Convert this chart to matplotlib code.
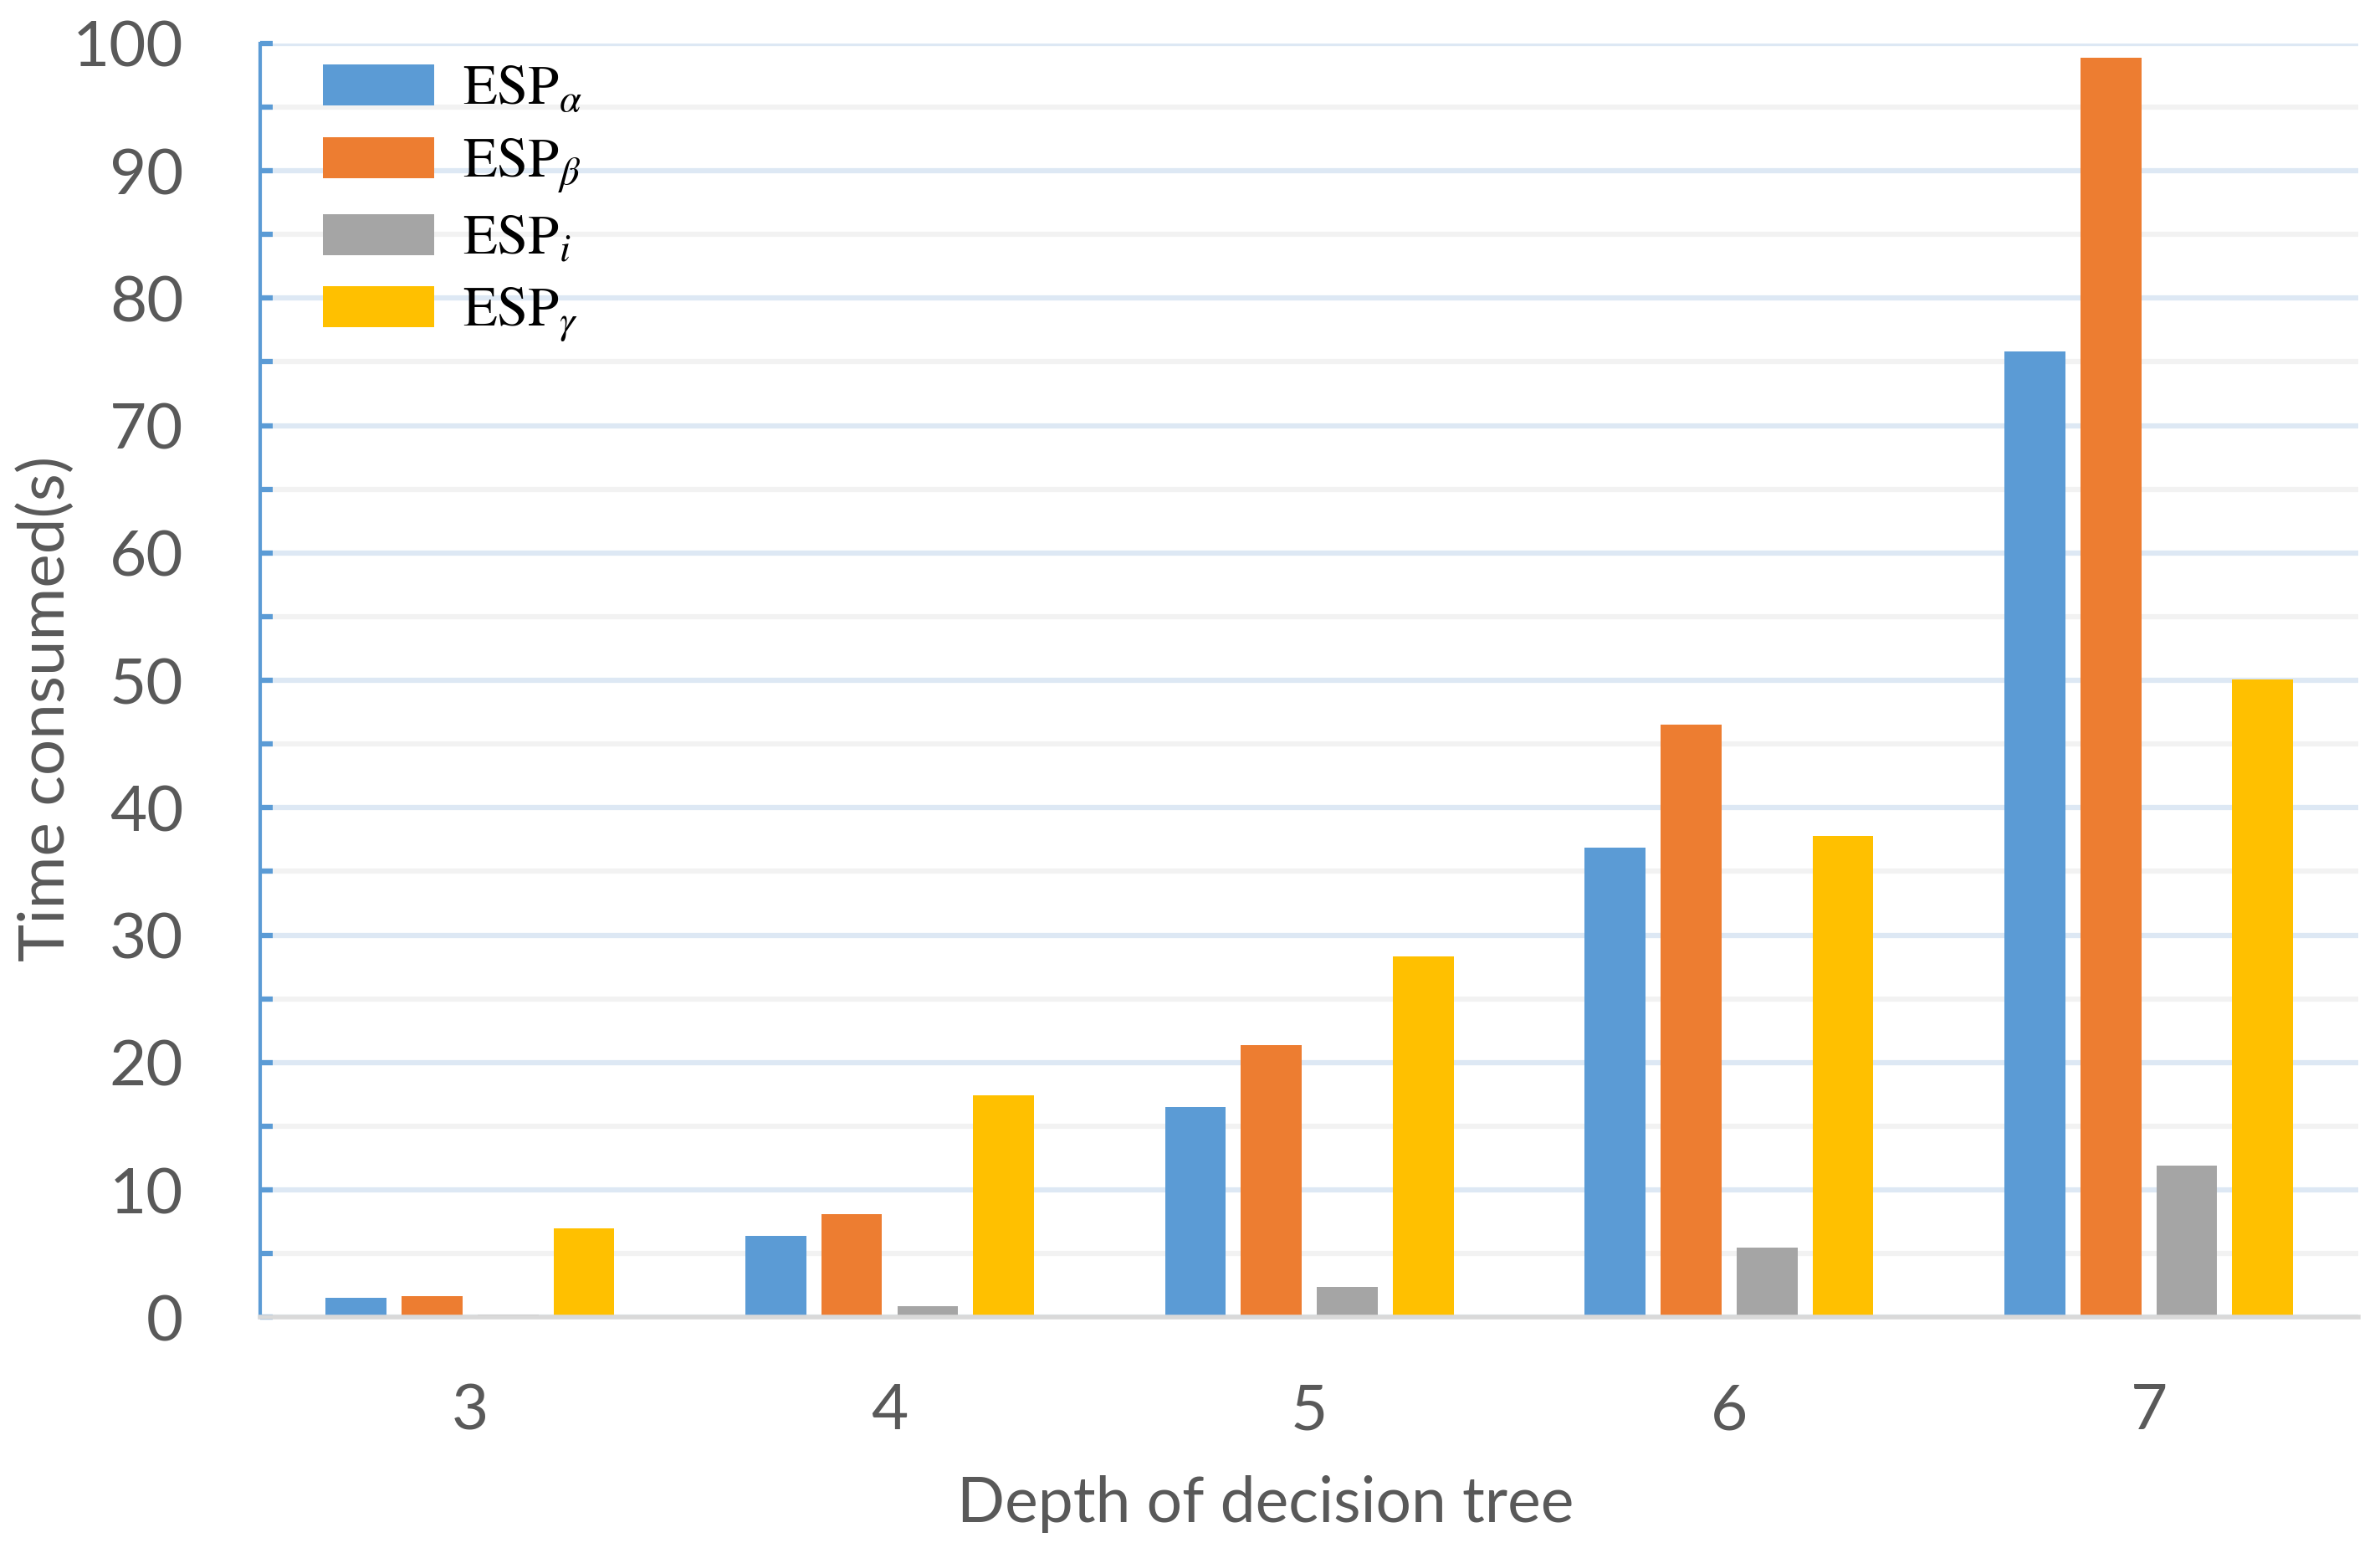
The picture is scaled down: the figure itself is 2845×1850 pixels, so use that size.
import numpy as np
import matplotlib
matplotlib.use("Agg")
import matplotlib.pyplot as plt

plt.rcParams['font.family'] = ['Lato', 'DejaVu Sans']
plt.rcParams['mathtext.fontset'] = 'stix'

# data
depths = ["3", "4", "5", "6", "7"]
esp_alpha = [1.55, 6.4, 16.5, 36.9, 75.8]
esp_beta = [1.65, 8.1, 21.4, 46.5, 98.9]
esp_i = [0.2, 0.85, 2.4, 5.5, 11.9]
esp_gamma = [7.0, 17.4, 28.3, 37.8, 50.1]

labels = [r'ESP$_{\alpha}$', r'ESP$_{\beta}$', r'ESP$_{i}$', r'ESP$_{\gamma}$']
colors = ['#5B9BD5', '#ED7D31', '#A5A5A5', '#FFC000']
series = [esp_alpha, esp_beta, esp_i, esp_gamma]

txt = '#595959'

fig = plt.figure(figsize=(28.45, 18.5), dpi=100)
ax = fig.add_axes([0.1093, 0.149, 0.8817, 0.823])

x = np.arange(len(depths))
w = 0.145
step = 0.181
for k, (vals, lab, c) in enumerate(zip(series, labels, colors)):
    ax.bar(x + (k - 1.5) * step, vals, width=w, color=c, label=lab, zorder=2)

ax.set_xlim(-0.5, len(depths) - 0.5)
ax.set_ylim(0, 100)
ax.set_xticks(x)
ax.set_xticklabels(depths)
ax.set_yticks(np.arange(0, 101, 10))
ax.set_yticks(np.arange(5, 100, 10), minor=True)

# gridlines
ax.grid(axis='y', which='major', color='#DDE8F4', linewidth=4.5, zorder=0)
ax.grid(axis='y', which='minor', color='#F2F2F2', linewidth=4.5, zorder=0)
ax.set_axisbelow(True)

for s in ['top', 'right']:
    ax.spines[s].set_visible(False)
ax.spines['left'].set_color('#5B9BD5')
ax.spines['left'].set_linewidth(3)
ax.spines['bottom'].set_color('#D9D9D9')
ax.spines['bottom'].set_linewidth(4)

ax.tick_params(axis='y', which='both', direction='in', length=11, width=4.5,
               color='#5B9BD5', labelsize=55, labelcolor=txt, pad=66)
ax.tick_params(axis='x', length=0, labelsize=55, labelcolor=txt, pad=56)

ax.set_ylabel('Time consumed(s)', fontsize=55, color=txt)
ax.set_xlabel('Depth of decision tree', fontsize=54, color=txt)
ax.yaxis.set_label_coords(-0.088, 0.478)
ax.xaxis.set_label_coords(0.479, -0.124)

ax.legend(loc='upper left', bbox_to_anchor=(0.014, 1.0095), frameon=False,
          prop={'family': 'STIXGeneral', 'size': 48},
          handlelength=2.0, handleheight=0.75, handletextpad=0.5,
          labelspacing=0.35, borderaxespad=0.2)

fig.savefig('out.png', dpi=100)
